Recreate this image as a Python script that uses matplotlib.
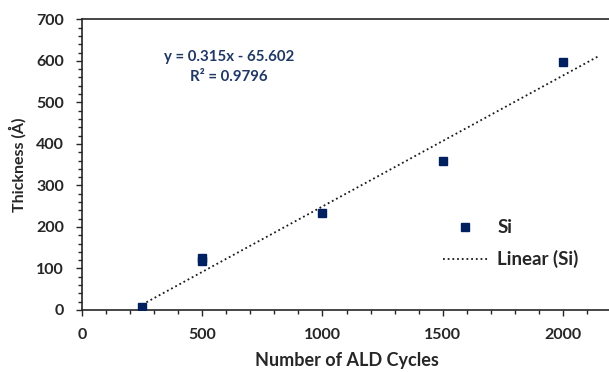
import matplotlib
matplotlib.use('Agg')
import matplotlib.pyplot as plt
from matplotlib.lines import Line2D
from matplotlib.ticker import MultipleLocator
import numpy as np

plt.rcParams['font.family'] = ['Lato', 'DejaVu Sans']

# data
cycles = [250, 500, 500, 1000, 1500, 2000]
thickness = [8, 125, 117, 233, 360, 598]

# trendline as printed on the chart
slope = 0.315
intercept = -65.602
r_squared = 0.9796
trend_x = [250, 2150]

navy = '#002060'
text_col = '#262626'

fig = plt.figure(figsize=(6.09, 3.72), dpi=100)
ax = fig.add_axes([0.135, 0.1667, 0.868, 0.7813])

tx = np.array(trend_x)
ax.plot(tx, slope * tx + intercept, linestyle=(0, (1, 1.6)), color='#1a1a1a', lw=1.3, zorder=2)
ax.plot(cycles, thickness, linestyle='none', marker='s', ms=6.3, color=navy, zorder=3)

ax.set_xlim(0, 2200)
ax.set_ylim(0, 700)
ax.xaxis.set_major_locator(MultipleLocator(500))
ax.xaxis.set_minor_locator(MultipleLocator(100))
ax.yaxis.set_major_locator(MultipleLocator(100))
ax.yaxis.set_minor_locator(MultipleLocator(20))
ax.tick_params(axis='both', which='major', direction='out', length=4, width=1,
               color='#262626', labelsize=11.5, labelcolor=text_col)
ax.tick_params(axis='both', which='minor', direction='out', length=3, width=1, color='#262626')
for lbl in ax.get_xticklabels() + ax.get_yticklabels():
    lbl.set_fontweight('bold')
ax.tick_params(axis='x', pad=9)
ax.tick_params(axis='y', pad=9)

for s in ['left', 'bottom', 'top']:
    ax.spines[s].set_color('#262626')
    ax.spines[s].set_linewidth(1.2)
ax.spines['right'].set_visible(False)

ax.set_xlabel('Number of ALD Cycles', fontsize=13, fontweight='bold', color=text_col, labelpad=7)
ax.set_ylabel('Thickness (Å)', fontsize=11.5, fontweight='bold', color=text_col, labelpad=7)

ax.text(610, 609, 'y = %.3fx - %.3f' % (slope, -intercept), color='#1f3864',
        fontsize=10.8, fontweight='bold', ha='center', va='center')
ax.text(610, 561, 'R² = %.4f' % r_squared, color='#1f3864',
        fontsize=10.8, fontweight='bold', ha='center', va='center')

handles = [
    Line2D([], [], linestyle='none', marker='s', ms=6.3, color=navy, label='Si'),
    Line2D([], [], linestyle=(0, (1, 1.6)), color='#1a1a1a', lw=1.3, label='Linear (Si)'),
]
leg = ax.legend(handles=handles, loc='upper left', bbox_to_anchor=(0.650, 0.37),
                frameon=False, fontsize=13.5, handlelength=2.4, labelspacing=0.75,
                handletextpad=0.5)
for t in leg.get_texts():
    t.set_fontweight('bold')
    t.set_color(text_col)

fig.savefig('out.png', dpi=100)
